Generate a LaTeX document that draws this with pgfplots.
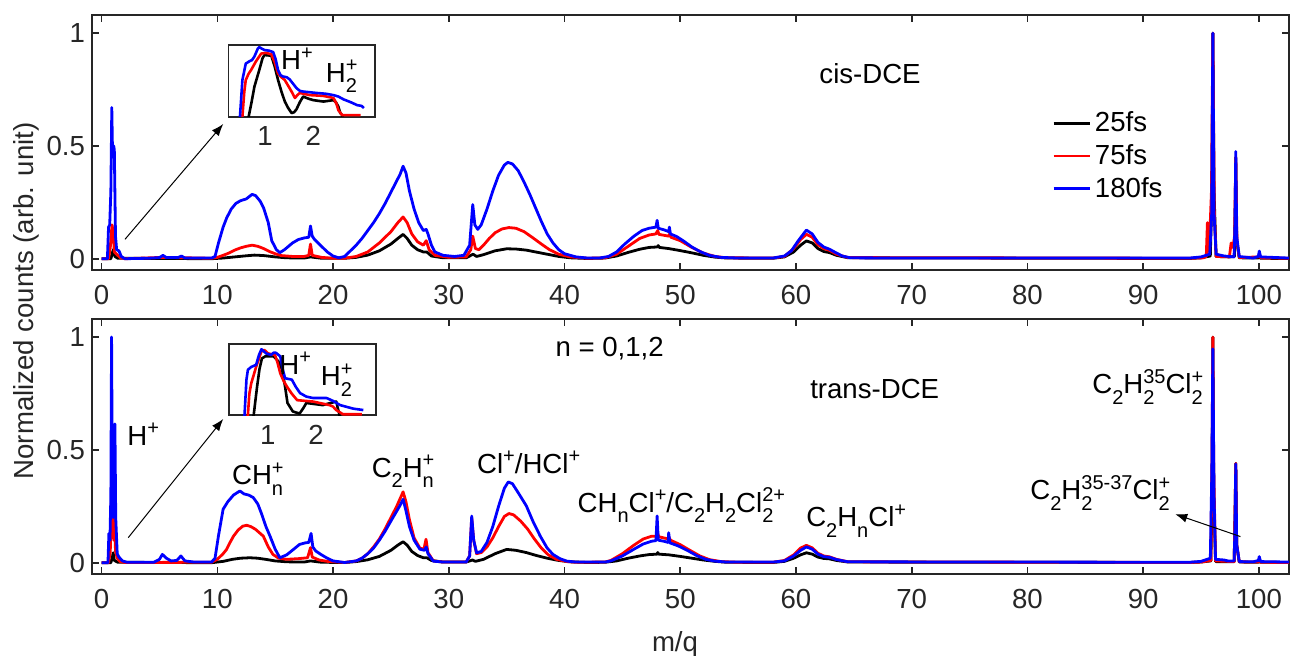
\documentclass[border=0pt]{standalone}
\usepackage{fontspec}
\setmainfont{Liberation Sans}
\usepackage{pgfplots}
\pgfplotsset{compat=1.18}
\usetikzlibrary{arrows.meta}
\definecolor{axgray}{RGB}{38,38,38}
\newcommand\fs{\fontsize{13.8}{16}\selectfont}
\newcommand\sbs[1]{\raisebox{-5.2pt}{\fontsize{10}{10}\selectfont #1}}
\newcommand\sps[1]{\raisebox{5.2pt}{\fontsize{10}{10}\selectfont #1}}
\newcommand\subsup[2]{\begingroup\setbox0\hbox{\sbs{#1}}\setbox2\hbox{\sps{#2}}\ifdim\wd0>\wd2 \rlap{\box2}\box0\else\rlap{\box0}\box2\fi\endgroup}
\pgfplotsset{
 mainax/.style={
  scale only axis, width=598.5pt, height=127.5pt,
  xmin=-0.83, xmax=102.6, ymin=-0.05, ymax=1.08,
  xtick={0,10,...,100}, ytick={0,0.5,1},
  tick align=inside, xtick pos=both, ytick pos=both,
  xticklabel pos=lower, yticklabel pos=left,
  major tick length=3.3pt,
  axis line style={axgray, line width=0.8pt},
  every tick/.style={axgray, line width=0.8pt},
  tick label style={font=\fs, text=axgray},
  xticklabel style={yshift=-4pt},
  /pgf/number format/assume math mode=true,
  every axis plot/.append style={line width=1.4pt, line join=round},
 },
 insetax/.style={
  scale only axis, ymin=0, ymax=1,
  xtick={1,2}, ytick=\empty, major tick length=0pt,
  axis line style={axgray, line width=0.9pt},
  tick label style={font=\fs, text=axgray},
  xticklabel style={yshift=-1.5pt},
  /pgf/number format/assume math mode=true,
  axis background/.style={fill=white},
  every axis plot/.append style={line width=1.3pt, line join=round},
 }
}
\begin{document}
\begin{tikzpicture}
\path[use as bounding box] (0,0) rectangle (645pt,327.5pt);
% ---------------- top panel (cis-DCE) ----------------
\begin{axis}[mainax, at={(46pt,192.5pt)}, anchor=south west,
  legend style={at={(axis cs:82.1,0.67)}, anchor=north west, draw=none, fill=none, inner sep=0pt,
    font=\fs, cells={anchor=west}, row sep=0.85pt},
  legend image code/.code={\draw[#1, line width=1.4pt] (0pt,0pt) -- (18pt,0pt);}]
\addplot[black] coordinates {(0,0) (0.8,0) (0.95,0.03) (1.05,0.042) (1.15,0.01) (1.4,0.002) (9.5,0) (10.5,0.003) (11.5,0.008) (12.5,0.013) (13.2,0.016) (14,0.014) (15,0.008) (16,0.004) (17.5,0.003) (18.05,0.008) (19,0.002) (21,0.002) (22,0.006) (23,0.016) (24,0.035) (25,0.065) (25.6,0.09) (26.05,0.108) (26.4,0.09) (26.8,0.06) (27.3,0.04) (27.8,0.03) (28.1,0.03) (28.5,0.012) (29.5,0.004) (31.5,0.004) (32.1,0.02) (32.4,0.01) (33,0.018) (34,0.035) (35,0.044) (35.8,0.043) (36.7,0.038) (37.5,0.03) (38.5,0.02) (39.5,0.01) (40.5,0.004) (42,0.001) (43.5,0.003) (44.5,0.012) (45.5,0.028) (46.5,0.042) (47.3,0.05) (48,0.052) (48.1,0.058) (48.2,0.05) (49,0.045) (50,0.036) (51,0.026) (52,0.015) (53,0.007) (54,0.003) (58,0.002) (59,0.008) (59.8,0.03) (60.4,0.06) (60.9,0.079) (61.4,0.07) (61.9,0.045) (62.4,0.032) (62.9,0.027) (63.5,0.015) (64.5,0.004) (94,0.001) (95,0.004) (95.8,0.012) (95.95,0.3) (96.02,1.0) (96.12,0.3) (96.3,0.01) (97.5,0.008) (97.88,0.01) (97.94,0.2) (98.0,0.45) (98.08,0.08) (98.3,0.004) (99.95,0.003) (100.03,0.01) (100.12,0.002) (102.6,0.001)};
\addlegendentry{25fs}
\addplot[red] coordinates {(0,0) (0.6,0) (0.75,0.05) (0.9,0.15) (1.0,0.12) (1.1,0.03) (1.3,0.02) (1.6,0.005) (2,0) (5.3,0.006) (9.5,0.002) (10,0.006) (10.5,0.015) (11,0.025) (11.5,0.038) (12,0.048) (12.5,0.055) (13,0.06) (13.5,0.055) (14,0.045) (14.5,0.032) (15,0.022) (15.5,0.014) (16.5,0.01) (17.5,0.01) (17.9,0.015) (18.05,0.065) (18.2,0.015) (19,0.006) (20,0.002) (21,0.002) (22,0.01) (23,0.03) (24,0.07) (25,0.12) (25.6,0.16) (26.05,0.185) (26.4,0.16) (26.8,0.11) (27.3,0.075) (27.8,0.06) (28.05,0.08) (28.3,0.04) (28.8,0.015) (30,0.006) (31.5,0.008) (31.9,0.04) (32.07,0.1) (32.3,0.045) (32.6,0.04) (33,0.06) (33.5,0.09) (34,0.115) (34.6,0.132) (35.2,0.138) (35.8,0.135) (36.5,0.12) (37.2,0.095) (38,0.065) (38.7,0.04) (39.5,0.02) (40.5,0.008) (42,0.002) (43.5,0.004) (44.5,0.02) (45.5,0.055) (46.5,0.09) (47.3,0.105) (47.9,0.11) (48.05,0.125) (48.15,0.108) (49,0.1) (49.08,0.11) (49.2,0.095) (50,0.08) (51,0.05) (52,0.025) (53,0.01) (54,0.004) (58,0.003) (59,0.01) (59.8,0.045) (60.4,0.085) (60.9,0.108) (61.4,0.095) (61.9,0.062) (62.4,0.045) (62.9,0.037) (63.5,0.02) (64.5,0.005) (94,0.002) (95.2,0.004) (95.45,0.01) (95.55,0.16) (95.7,0.03) (95.9,0.3) (96.02,1.0) (96.15,0.2) (96.3,0.01) (97.45,0.008) (97.6,0.07) (97.75,0.05) (97.9,0.1) (98.0,0.45) (98.1,0.08) (98.3,0.005) (99.95,0.008) (100.03,0.02) (100.15,0.004) (102.6,0.002)};
\addlegendentry{75fs}
\addplot[blue] coordinates {(0,0) (0.5,0) (0.6,0.14) (0.7,0.15) (0.8,0.3) (0.88,0.67) (0.95,0.45) (1.05,0.5) (1.1,0.48) (1.2,0.1) (1.3,0.04) (1.5,0.035) (1.7,0.01) (2,0) (4,0.002) (5,0.005) (5.3,0.015) (5.6,0.005) (6.6,0.005) (6.9,0.012) (7.2,0.003) (9.5,0.003) (9.8,0.01) (10.1,0.07) (10.5,0.14) (10.8,0.18) (11.2,0.22) (11.6,0.245) (12,0.257) (12.5,0.265) (13,0.285) (13.3,0.28) (13.7,0.255) (14,0.225) (14.4,0.16) (14.7,0.08) (15.1,0.04) (15.4,0.027) (15.8,0.04) (16.5,0.07) (17,0.085) (17.5,0.092) (17.9,0.095) (18.05,0.145) (18.2,0.1) (18.4,0.085) (19,0.055) (19.5,0.03) (20,0.012) (20.5,0.004) (21,0.01) (21.5,0.035) (22,0.06) (22.5,0.09) (23,0.125) (23.5,0.16) (24,0.2) (24.5,0.245) (25,0.295) (25.5,0.345) (25.8,0.375) (26.05,0.41) (26.3,0.38) (26.6,0.3) (27,0.22) (27.4,0.16) (27.8,0.125) (28.05,0.13) (28.2,0.11) (28.5,0.06) (28.8,0.03) (29.5,0.015) (30.5,0.01) (31.3,0.015) (31.8,0.06) (32.07,0.24) (32.25,0.15) (32.5,0.13) (32.8,0.15) (33.3,0.22) (33.8,0.3) (34.3,0.37) (34.8,0.415) (35.1,0.427) (35.5,0.42) (36,0.39) (36.5,0.34) (37,0.285) (37.5,0.225) (38,0.165) (38.5,0.11) (39,0.07) (39.5,0.04) (40,0.022) (41,0.008) (42,0.003) (43,0.003) (43.8,0.01) (44.5,0.03) (45.2,0.065) (46,0.1) (46.7,0.125) (47.3,0.135) (47.9,0.14) (48.0,0.17) (48.1,0.135) (48.6,0.128) (49.0,0.12) (49.06,0.14) (49.15,0.11) (49.7,0.098) (50.3,0.078) (51,0.052) (51.7,0.032) (52.5,0.015) (53.5,0.006) (55,0.003) (58,0.003) (59,0.012) (59.6,0.035) (60.2,0.08) (60.9,0.127) (61.4,0.11) (61.9,0.072) (62.4,0.052) (62.9,0.042) (63.4,0.028) (64,0.012) (64.7,0.004) (70,0.003) (80,0.003) (90,0.003) (94,0.003) (95,0.008) (95.75,0.02) (95.92,0.2) (96.02,1.0) (96.12,0.2) (96.3,0.02) (97,0.012) (97.85,0.008) (97.93,0.15) (98.0,0.475) (98.08,0.1) (98.3,0.01) (99.5,0.003) (99.95,0.01) (100.03,0.034) (100.15,0.008) (102.6,0.003)};
\addlegendentry{180fs}
\node[font=\fs] at (axis cs:66.4,0.82) {cis-DCE};
\draw[-{Latex[length=6pt,width=4.5pt]}, line width=0.5pt] (axis cs:2.02,0.086) -- (axis cs:10.51,0.597);
\end{axis}
% ---------------- bottom panel (trans-DCE) ----------------
\begin{axis}[mainax, at={(46pt,40.5pt)}, anchor=south west]
\addplot[black] coordinates {(0,0) (0.8,0) (0.95,0.03) (1.0,0.044) (1.1,0.01) (1.4,0.002) (9.5,0) (10.5,0.006) (11.3,0.015) (12,0.02) (12.8,0.022) (13.5,0.02) (14.3,0.014) (15,0.008) (16,0.004) (17.5,0.003) (18.05,0.008) (19,0.002) (21,0.001) (22,0.005) (23,0.013) (24,0.028) (25,0.055) (25.6,0.078) (26.05,0.093) (26.4,0.078) (26.8,0.05) (27.3,0.032) (27.8,0.022) (28.1,0.022) (28.5,0.01) (29.5,0.003) (31.5,0.003) (32.05,0.012) (32.3,0.006) (33,0.015) (34,0.04) (35,0.059) (35.8,0.055) (36.7,0.045) (37.5,0.033) (38.5,0.02) (39.5,0.01) (40.5,0.004) (42,0.001) (43.5,0.002) (44.5,0.008) (45.5,0.02) (46.5,0.03) (47.3,0.036) (48,0.038) (48.05,0.045) (48.15,0.038) (49,0.035) (50,0.028) (51,0.02) (52,0.012) (53,0.006) (54,0.002) (58,0.001) (59,0.006) (59.8,0.02) (60.4,0.035) (60.9,0.044) (61.4,0.038) (61.9,0.025) (62.4,0.019) (62.9,0.017) (63.5,0.01) (64.5,0.003) (94,0.001) (95,0.003) (95.85,0.008) (95.95,0.3) (96.02,1.0) (96.1,0.3) (96.25,0.005) (97.86,0.004) (97.93,0.2) (98.0,0.44) (98.08,0.08) (98.3,0.003) (99.95,0.002) (100.03,0.008) (100.12,0.002) (102.6,0.001)};
\addplot[red] coordinates {(0,0) (0.6,0) (0.75,0.05) (0.9,0.385) (0.97,0.15) (1.05,0.1) (1.12,0.2) (1.2,0.05) (1.35,0.02) (1.6,0.005) (2,0.001) (9.5,0.002) (10,0.015) (10.5,0.04) (10.8,0.059) (11.1,0.09) (11.4,0.118) (11.8,0.145) (12.2,0.162) (12.53,0.166) (12.9,0.16) (13.3,0.148) (13.7,0.13) (13.97,0.118) (14.4,0.07) (14.8,0.037) (15.3,0.02) (16,0.015) (17,0.018) (17.8,0.022) (18.05,0.067) (18.2,0.025) (18.8,0.012) (19.5,0.006) (21,0.001) (22,0.008) (22.5,0.02) (23,0.04) (23.5,0.07) (24,0.105) (24.5,0.15) (25,0.2) (25.5,0.25) (25.8,0.285) (26.05,0.314) (26.3,0.27) (26.6,0.19) (27,0.11) (27.5,0.065) (27.85,0.06) (28.03,0.104) (28.2,0.045) (28.66,0.008) (29.5,0.003) (31.5,0.003) (31.8,0.03) (31.98,0.2) (32.15,0.1) (32.4,0.04) (32.8,0.045) (33.3,0.07) (33.8,0.11) (34.3,0.16) (34.8,0.205) (35.2,0.218) (35.6,0.212) (36.2,0.185) (36.8,0.15) (37.4,0.105) (38,0.065) (38.6,0.035) (39.3,0.015) (40.2,0.005) (41,0.002) (43.5,0.003) (44,0.01) (45,0.04) (46,0.078) (46.8,0.105) (47.5,0.117) (48,0.118) (48.05,0.13) (48.15,0.115) (49,0.105) (49.05,0.11) (49.15,0.1) (50,0.08) (50.8,0.056) (51.7,0.03) (52.5,0.014) (53.5,0.005) (55,0.002) (58,0.002) (59,0.01) (59.8,0.035) (60.4,0.065) (60.9,0.077) (61.4,0.066) (61.9,0.042) (62.4,0.03) (62.9,0.026) (63.5,0.015) (64.5,0.004) (94,0.001) (95,0.003) (95.85,0.01) (95.95,0.5) (96.02,1.0) (96.1,0.4) (96.25,0.008) (97.86,0.005) (97.93,0.2) (98.0,0.44) (98.08,0.08) (98.3,0.004) (99.95,0.003) (100.03,0.015) (100.12,0.002) (102.6,0.001)};
\addplot[blue] coordinates {(0,0) (0.55,0) (0.63,0.13) (0.72,0.1) (0.8,0.3) (0.86,1.0) (0.93,0.35) (1.0,0.2) (1.08,0.4) (1.15,0.615) (1.22,0.2) (1.35,0.04) (1.5,0.025) (1.8,0.008) (2.2,0.002) (4.5,0.002) (5.0,0.015) (5.25,0.037) (5.6,0.02) (6.0,0.008) (6.5,0.01) (6.85,0.03) (7.2,0.008) (8,0.003) (9.5,0.003) (9.8,0.02) (10.1,0.12) (10.5,0.237) (10.9,0.27) (11.4,0.3) (11.95,0.318) (12.3,0.305) (12.7,0.3) (13.1,0.289) (13.5,0.26) (13.8,0.22) (14.2,0.16) (14.55,0.118) (15,0.06) (15.4,0.022) (16,0.035) (16.6,0.06) (17.1,0.081) (17.6,0.088) (17.9,0.09) (18.1,0.13) (18.25,0.07) (18.5,0.052) (19,0.035) (19.5,0.02) (20,0.008) (21,0.001) (22,0.008) (22.5,0.02) (23,0.04) (23.5,0.065) (24,0.1) (24.5,0.14) (25,0.185) (25.4,0.22) (25.8,0.255) (26.05,0.281) (26.3,0.23) (26.6,0.16) (27,0.1) (27.5,0.06) (27.9,0.055) (28.05,0.07) (28.2,0.04) (28.66,0.007) (29.5,0.003) (31.5,0.003) (31.8,0.03) (31.98,0.207) (32.15,0.1) (32.4,0.044) (32.8,0.05) (33.3,0.09) (33.8,0.16) (34.3,0.25) (34.8,0.33) (35.14,0.358) (35.5,0.35) (36,0.31) (36.7,0.252) (37.3,0.18) (37.9,0.118) (38.5,0.065) (39,0.037) (39.6,0.018) (40.2,0.007) (41,0.003) (43.5,0.003) (44,0.008) (45,0.03) (46,0.06) (46.8,0.083) (47.5,0.095) (47.9,0.098) (48.0,0.207) (48.1,0.1) (48.6,0.095) (48.95,0.09) (49.0,0.133) (49.1,0.088) (49.8,0.075) (50.6,0.055) (51.4,0.032) (52.2,0.015) (53,0.007) (54,0.003) (58,0.003) (59,0.008) (59.8,0.03) (60.4,0.055) (60.9,0.07) (61.4,0.06) (61.9,0.038) (62.4,0.027) (62.9,0.024) (63.5,0.014) (64.5,0.004) (94,0.002) (95,0.006) (95.8,0.02) (95.93,0.4) (96.02,0.948) (96.12,0.3) (96.25,0.015) (97,0.012) (97.3,0.008) (97.86,0.008) (97.93,0.15) (98.0,0.437) (98.08,0.08) (98.3,0.005) (99.5,0.004) (99.95,0.01) (100.03,0.027) (100.15,0.005) (102.6,0.003)};
\node[font=\fs] at (axis cs:43.9,0.948) {n = 0,1,2};
\node[font=\fs] at (axis cs:66.8,0.77) {trans-DCE};
\node[font=\fs] at (axis cs:3.6,0.57) {H\sps{+}};
\node[font=\fs] at (axis cs:13.5,0.37) {CH\subsup{n}{+}};
\node[font=\fs] at (axis cs:26.05,0.404) {C\sbs{2}H\subsup{n}{+}};
\node[font=\fs] at (axis cs:36.9,0.444) {Cl\sps{+}/HCl\sps{+}};
\node[font=\fs] at (axis cs:50.1,0.255) {CH\sbs{n}Cl\sps{+}/C\sbs{2}H\sbs{2}Cl\subsup{2}{2+}};
\node[font=\fs] at (axis cs:65.2,0.185) {C\sbs{2}H\sbs{n}Cl\sps{+}};
\node[font=\fs] at (axis cs:90.4,0.78) {C\sbs{2}H\subsup{2}{35}Cl\subsup{2}{+}};
\node[font=\fs] at (axis cs:86.3,0.31) {C\sbs{2}H\subsup{2}{35-37}Cl\subsup{2}{+}};
\draw[-{Latex[length=6pt,width=4.5pt]}, line width=0.5pt] (axis cs:2.3,0.111) -- (axis cs:10.51,0.637);
\draw[-{Latex[length=6pt,width=4.5pt]}, line width=0.5pt] (axis cs:98.4,0.116) -- (axis cs:92.77,0.215);
\end{axis}
% ---------------- insets ----------------
\begin{axis}[insetax, at={(114.2pt,269.2pt)}, anchor=south west, width=73.3pt, height=35.8pt, xmin=0.24, xmax=3.28]
\addplot[black] coordinates {(0.64,-0.05) (0.66,0) (0.72,0.2) (0.78,0.42) (0.88,0.65) (0.95,0.82) (0.99,0.86) (1.13,0.85) (1.2,0.7) (1.27,0.51) (1.34,0.35) (1.41,0.21) (1.48,0.12) (1.55,0.05) (1.6,0.06) (1.65,0.1) (1.72,0.2) (1.79,0.28) (1.9,0.25) (2.0,0.23) (2.21,0.21) (2.42,0.23) (2.47,0.2) (2.52,0.14) (2.56,0.05) (2.6,0.02) (2.62,-0.05)};
\addplot[red] coordinates {(0.5,-0.05) (0.53,0.0) (0.57,0.35) (0.6,0.51) (0.66,0.6) (0.71,0.65) (0.81,0.77) (0.92,0.88) (1.02,0.89) (1.13,0.87) (1.2,0.76) (1.27,0.6) (1.34,0.55) (1.41,0.51) (1.48,0.43) (1.55,0.35) (1.62,0.26) (1.67,0.3) (1.72,0.33) (1.93,0.3) (2.2,0.29) (2.42,0.26) (2.48,0.18) (2.52,0.09) (2.6,0.02) (2.8,0.02) (2.98,0.02)};
\addplot[blue] coordinates {(0.45,-0.05) (0.48,0) (0.53,0.51) (0.6,0.74) (0.67,0.77) (0.73,0.79) (0.78,0.84) (0.85,0.95) (0.88,0.97) (0.93,0.95) (0.99,0.93) (1.09,0.92) (1.17,0.9) (1.22,0.8) (1.27,0.65) (1.32,0.58) (1.37,0.56) (1.45,0.55) (1.51,0.52) (1.58,0.46) (1.65,0.4) (1.72,0.36) (1.79,0.35) (1.93,0.34) (2.07,0.33) (2.25,0.32) (2.42,0.3) (2.52,0.28) (2.63,0.24) (2.78,0.2) (2.91,0.16) (3.0,0.15) (3.05,0.12)};
\node[font=\fs] at (axis cs:1.66,0.81) {H\sps{+}};
\node[font=\fs] at (axis cs:2.59,0.56) {H\subsup{2}{+}};
\end{axis}
\begin{axis}[insetax, at={(114.65pt,120pt)}, anchor=south west, width=73.2pt, height=35.35pt, xmin=0.205, xmax=3.236]
\addplot[black] coordinates {(0.69,-0.05) (0.71,0) (0.78,0.4) (0.83,0.65) (0.88,0.8) (0.95,0.83) (1.12,0.83) (1.22,0.76) (1.3,0.64) (1.36,0.4) (1.41,0.17) (1.52,0.05) (1.66,0.02) (1.74,0.1) (1.8,0.17) (2.14,0.14) (2.3,0.17) (2.42,0.19) (2.45,0.1) (2.48,0.02) (2.5,-0.05)};
\addplot[red] coordinates {(0.57,-0.05) (0.59,0) (0.62,0.3) (0.66,0.45) (0.76,0.68) (0.82,0.8) (0.87,0.9) (0.93,0.92) (1.01,0.87) (1.15,0.85) (1.2,0.75) (1.26,0.59) (1.33,0.48) (1.4,0.4) (1.5,0.3) (1.61,0.21) (1.94,0.19) (2.28,0.14) (2.35,0.12) (2.42,0.07) (2.56,0.01) (2.8,0.01) (2.95,0.01)};
\addplot[blue] coordinates {(0.5,-0.05) (0.52,0) (0.56,0.5) (0.59,0.64) (0.66,0.68) (0.76,0.71) (0.82,0.85) (0.87,0.93) (0.92,0.9) (0.97,0.87) (1.07,0.85) (1.12,0.88) (1.17,0.88) (1.26,0.83) (1.31,0.65) (1.36,0.52) (1.5,0.5) (1.58,0.4) (1.67,0.31) (1.8,0.26) (1.94,0.24) (2.22,0.24) (2.35,0.2) (2.5,0.14) (2.77,0.09) (2.98,0.07)};
\node[font=\fs] at (axis cs:1.57,0.73) {H\sps{+}};
\node[font=\fs] at (axis cs:2.43,0.495) {H\subsup{2}{+}};
\end{axis}
% ---------------- shared labels ----------------
\node[font=\fs, text=axgray, rotate=90] at (13pt,177pt) {Normalized counts (arb. unit)};
\node[font=\fs, text=axgray] at (337.5pt,5.5pt) {m/q};
\end{tikzpicture}
\end{document}
